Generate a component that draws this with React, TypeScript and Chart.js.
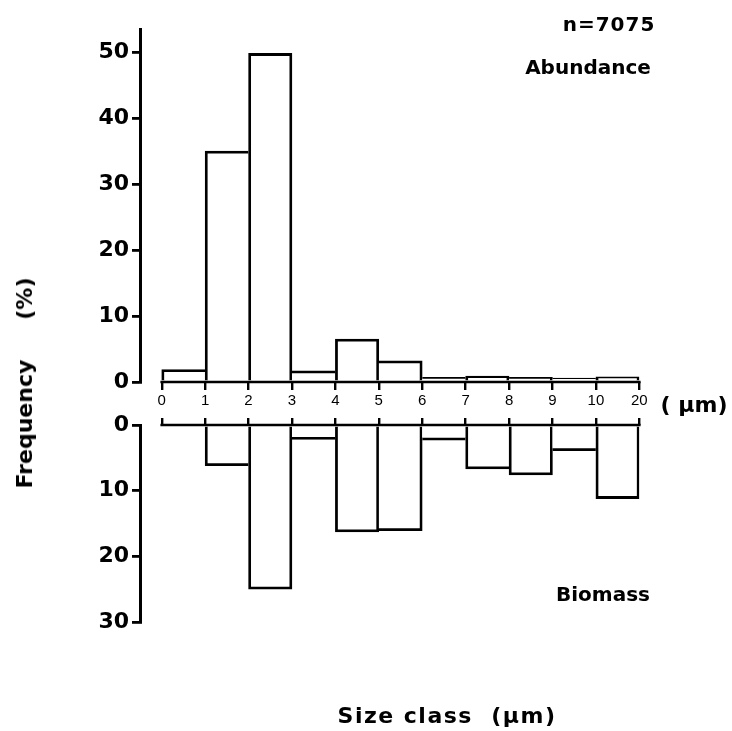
import React, { useEffect, useRef } from 'react';
import { Chart, registerables } from 'chart.js';

Chart.register(...registerables);

// Bin edges of the size classes (µm); the last class (10-20 µm) is drawn as one unit wide
const binEdges = [0, 1, 2, 3, 4, 5, 6, 7, 8, 9, 10, 11];
const edgeLabels = ['0', '1', '2', '3', '4', '5', '6', '7', '8', '9', '10', '20'];
const sizeClasses = ['0-1', '1-2', '2-3', '3-4', '4-5', '5-6', '6-7', '7-8', '8-9', '9-10', '10-20'];
// Frequency (%)
const abundance = [1.9, 35.0, 49.8, 1.7, 6.5, 3.2, 0.7, 0.9, 0.7, 0.6, 0.8];
const biomass = [0, 6.2, 25.0, 2.2, 16.3, 16.1, 2.3, 6.7, 7.6, 3.9, 11.2];
const abundanceTicks = [0, 10, 20, 30, 40, 50];
const biomassTicks = [0, 10, 20, 30];

const FONT = '"DejaVu Sans", sans-serif';
const LW = 2.8;

const toPoints = (vals: number[]) =>
  vals.map((v, i) => ({ x: (binEdges[i] + binEdges[i + 1]) / 2, y: v, label: sizeClasses[i] }));

const baselinePlugin = {
  id: 'baseline',
  afterDatasetsDraw(chart: any) {
    const { ctx, scales } = chart;
    const x = scales.x;
    const y = scales.y;
    const y0 = y.getPixelForValue(0);
    ctx.save();
    ctx.strokeStyle = '#000';
    ctx.lineWidth = 2.6;
    ctx.lineCap = 'square';
    ctx.beginPath();
    ctx.moveTo(x.getPixelForValue(binEdges[0]), y0);
    ctx.lineTo(x.getPixelForValue(binEdges[binEdges.length - 1]), y0);
    ctx.stroke();
    ctx.restore();
  },
};

// A shared edge between two bins is drawn once, by the taller bar
const edgeBorders = (vals: number[]) => (c: any) => {
  const i = c.dataIndex;
  const v = vals[i];
  const left = i === 0 || v >= vals[i - 1] ? LW : 0;
  const right = i === vals.length - 1 || v > vals[i + 1] ? LW : 0;
  return { top: LW, bottom: LW, left, right };
};

function makeConfig(kind: 'top' | 'bottom'): any {
  const isTop = kind === 'top';
  const vals = isTop ? abundance : biomass;
  const yTicks = isTop ? abundanceTicks : biomassTicks;
  return {
    type: 'bar',
    data: {
      datasets: [
        {
          label: isTop ? 'Abundance' : 'Biomass',
          data: toPoints(vals),
          backgroundColor: '#ffffff',
          borderColor: '#000000',
          borderWidth: edgeBorders(vals),
          borderSkipped: 'start',
          barPercentage: 1,
          categoryPercentage: 1,
        },
      ],
    },
    options: {
      responsive: false,
      maintainAspectRatio: false,
      animation: false,
      layout: {
        padding: isTop
          ? { top: 29, right: 92.7, bottom: 0, left: 0 }
          : { top: 0, right: 92.7, bottom: 109, left: 0 },
      },
      plugins: { legend: { display: false }, tooltip: { enabled: false }, title: { display: false } },
      scales: {
        x: {
          type: 'linear',
          position: isTop ? 'bottom' : 'top',
          min: -0.5,
          max: binEdges[binEdges.length - 1],
          offset: false,
          afterBuildTicks: (s: any) => {
            s.ticks = binEdges.map((v) => ({ value: v }));
          },
          afterFit: (s: any) => {
            s.height = isTop ? 40 : 25;
          },
          border: { display: false },
          grid: {
            offset: false,
            drawOnChartArea: false,
            drawTicks: true,
            tickLength: isTop ? 8 : 7,
            color: '#000',
            lineWidth: 2.4,
          },
          ticks: {
            display: isTop,
            autoSkip: false,
            maxRotation: 0,
            padding: 2,
            color: '#000',
            font: { family: '"Liberation Sans", Arial, sans-serif', size: 15 },
            callback: (v: number) => {
              const i = binEdges.indexOf(v);
              return i >= 0 ? edgeLabels[i] : '';
            },
          },
        },
        y: {
          type: 'linear',
          reverse: !isTop,
          min: 0,
          max: isTop ? 53.5 : 30,
          afterBuildTicks: (s: any) => {
            s.ticks = yTicks.map((v) => ({ value: v }));
          },
          afterFit: (s: any) => {
            s.width = 140;
          },
          border: { display: true, color: '#000', width: 3 },
          grid: {
            offset: false,
            drawOnChartArea: false,
            drawTicks: true,
            tickLength: 8,
            color: '#000',
            lineWidth: 2.8,
          },
          ticks: {
            padding: 3,
            color: '#000',
            font: { family: FONT, size: 22, weight: 'bold' },
          },
        },
      },
    },
    plugins: [baselinePlugin],
  };
}

function HistChart({ kind, top, height }: { kind: 'top' | 'bottom'; top: number; height: number }) {
  const ref = useRef<HTMLCanvasElement | null>(null);
  useEffect(() => {
    if (!ref.current) return;
    const chart = new Chart(ref.current, makeConfig(kind));
    return () => chart.destroy();
  }, [kind]);
  return (
    <canvas
      ref={ref}
      width={732}
      height={height}
      style={{ position: 'absolute', left: 0, top, width: 732, height }}
    />
  );
}

const textBase: React.CSSProperties = {
  position: 'absolute',
  fontFamily: FONT,
  fontWeight: 'bold',
  color: '#000',
  whiteSpace: 'pre',
  lineHeight: 1,
  transform: 'translate(-50%, -50%)',
};

export default function App() {
  return (
    <div style={{ position: 'absolute', left: 0, top: 0, width: 732, height: 731, background: '#fff', overflow: 'hidden' }}>
      <HistChart kind="top" top={0} height={422} />
      <HistChart kind="bottom" top={400} height={331} />
      <div style={{ ...textBase, left: 609, top: 24, fontSize: 20, letterSpacing: 1 }}>n=7075</div>
      <div style={{ ...textBase, left: 588, top: 67, fontSize: 20 }}>Abundance</div>
      <div style={{ ...textBase, left: 603, top: 594, fontSize: 20 }}>Biomass</div>
      <div style={{ ...textBase, left: 694, top: 405, fontSize: 22 }}>( µm)</div>
      <div style={{ ...textBase, left: 447, top: 716, fontSize: 22, letterSpacing: 1.5 }}>Size class  (µm)</div>
      <div
        style={{
          ...textBase,
          left: 25,
          top: 383,
          fontSize: 22,
          transform: 'translate(-50%, -50%) rotate(-90deg)',
        }}
      >
        <span>Frequency</span>
        <span style={{ marginLeft: 40 }}>(%)</span>
      </div>
    </div>
  );
}
